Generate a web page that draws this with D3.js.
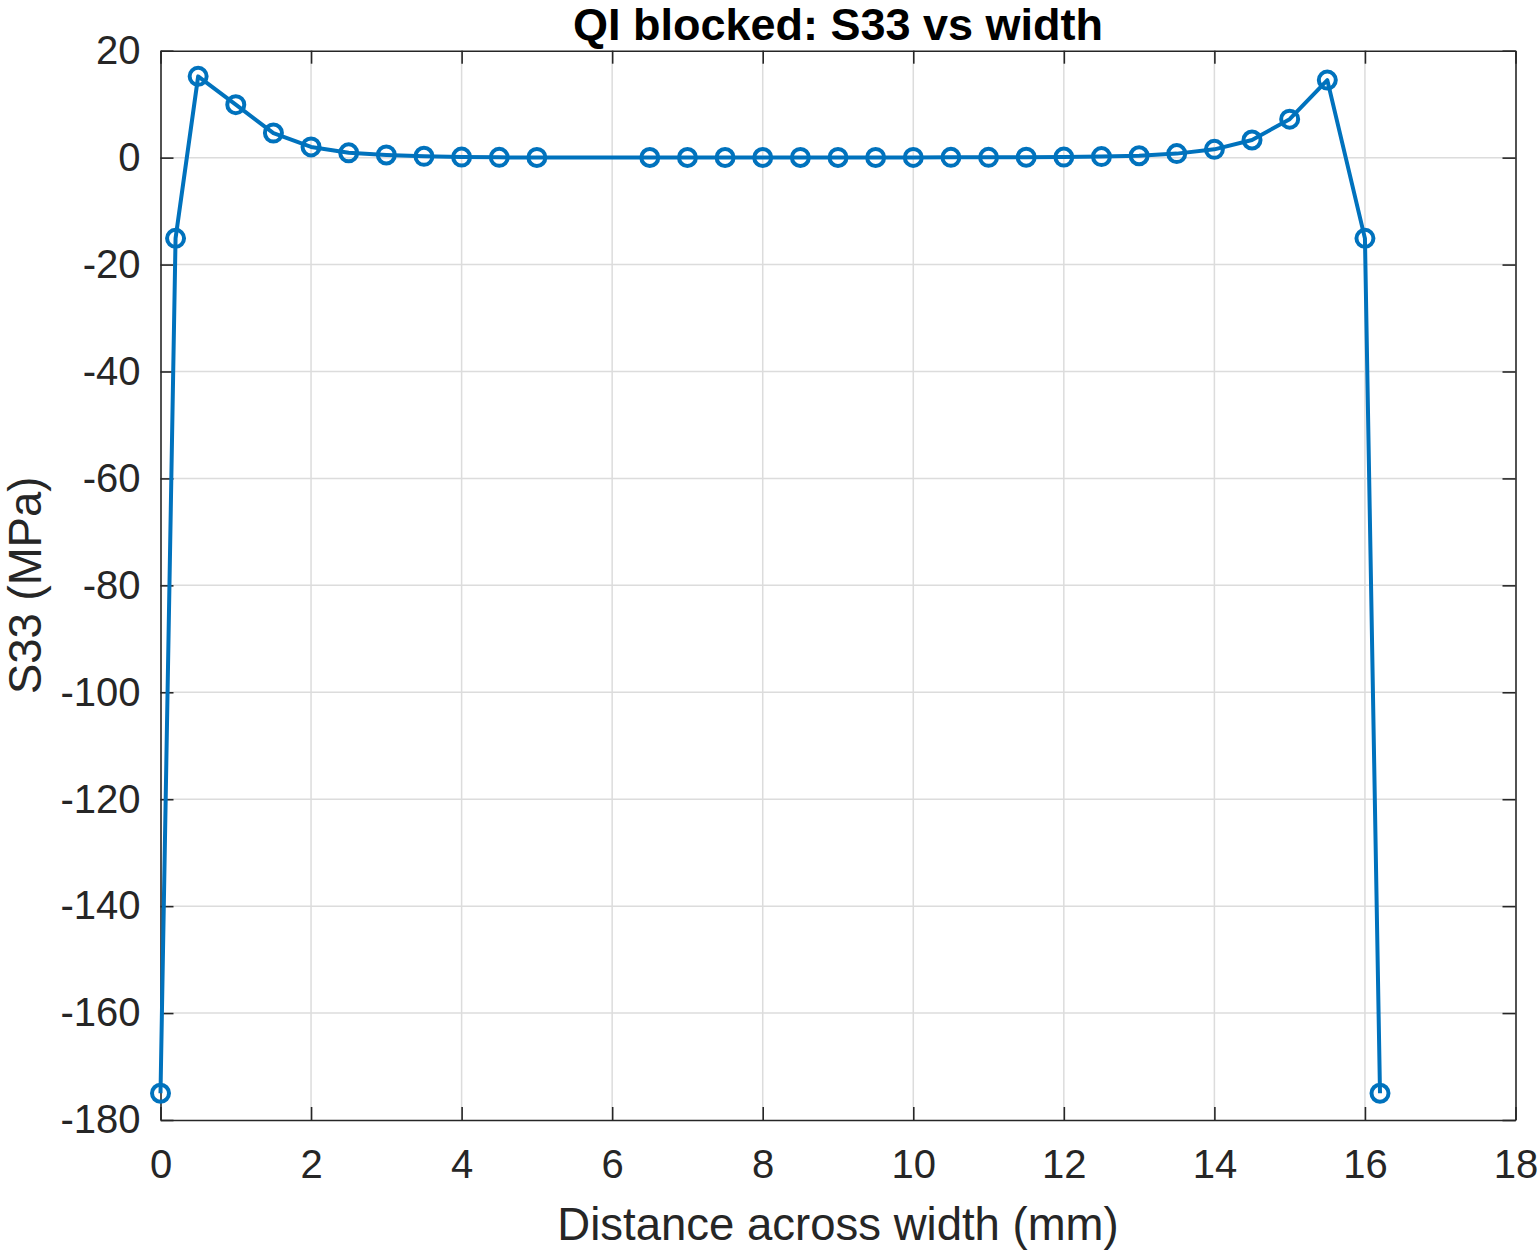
<!DOCTYPE html>
<html>
<head>
<meta charset="utf-8">
<script src="https://cdn.jsdelivr.net/npm/d3@7"></script>
<style>
  html, body { margin: 0; padding: 0; background: #fff; }
  svg { display: block; font-family: "Liberation Sans", Arial, sans-serif; }
</style>
</head>
<body>
<svg id="chart" width="1540" height="1253"></svg>
<script>
// distance across width (mm) and S33 (MPa)
const xValues = [0, 0.2, 0.5, 1, 1.5, 2, 2.5, 3, 3.5, 4, 4.5, 5,
  6.5, 7, 7.5, 8, 8.5, 9, 9.5, 10, 10.5, 11, 11.5, 12, 12.5, 13, 13.5,
  14, 14.5, 15, 15.5, 16, 16.2];
const s33Values = [-175, -15.1, 15.2, 9.9, 4.6, 2.0, 0.9, 0.5, 0.25, 0.1, 0.05, 0.03,
  0.02, 0.02, 0.02, 0.02, 0.03, 0.03, 0.03, 0.04, 0.05, 0.06, 0.08, 0.1, 0.2, 0.35, 0.75,
  1.55, 3.3, 7.2, 14.5, -15.1, -175];
const xTicks = [0, 2, 4, 6, 8, 10, 12, 14, 16, 18];
const yTicks = [20, 0, -20, -40, -60, -80, -100, -120, -140, -160, -180];

const titleText = "QI blocked: S33 vs width";
const xLabel = "Distance across width (mm)";
const yLabel = "S33 (MPa)";

function drawChart() {
  const svg = d3.select("#chart");
  svg.selectAll("*").remove();

  const left = 160.5, right = 1515.5, top = 50.7, bottom = 1120;
  const axisColor = "#262626";

  const x = d3.scaleLinear().domain([0, 18]).range([left, right]);
  const y = d3.scaleLinear().domain([-180, 20]).range([bottom, top]);

  // grid
  const grid = svg.append("g");
  grid.selectAll("line.gx")
    .data(xTicks.slice(1, -1))
    .enter().append("line")
    .attr("x1", d => x(d)).attr("x2", d => x(d))
    .attr("y1", top).attr("y2", bottom)
    .attr("stroke", "#dcdcdc").attr("stroke-width", 1.5);
  grid.selectAll("line.gy")
    .data(yTicks.slice(1, -1))
    .enter().append("line")
    .attr("y1", d => y(d)).attr("y2", d => y(d))
    .attr("x1", left).attr("x2", right)
    .attr("stroke", "#dcdcdc").attr("stroke-width", 1.5);

  // axes (ticks pointing inward, box around); plain hyphen for negatives
  const fmt = d => String(d);
  const xAxis = d3.axisBottom(x).tickValues(xTicks).tickSizeInner(-13).tickSizeOuter(0).tickPadding(30).tickFormat(fmt);
  const xAxisTop = d3.axisTop(x).tickValues(xTicks).tickSizeInner(-13).tickSizeOuter(0).tickFormat("");
  const yAxis = d3.axisLeft(y).tickValues(yTicks).tickSizeInner(-13).tickSizeOuter(0).tickPadding(20).tickFormat(fmt);
  const yAxisRight = d3.axisRight(y).tickValues(yTicks).tickSizeInner(-13).tickSizeOuter(0).tickFormat("");

  const styleAxis = g => {
    g.select(".domain").attr("stroke", axisColor).attr("stroke-width", 1.6);
    g.selectAll(".tick line").attr("stroke", axisColor).attr("stroke-width", 1.6);
    g.selectAll(".tick text").attr("fill", axisColor).style("font-size", "40px");
  };

  svg.append("g").attr("transform", `translate(0,${bottom})`).call(xAxis).call(styleAxis);
  svg.append("g").attr("transform", `translate(0,${top})`).call(xAxisTop).call(styleAxis);
  svg.append("g").attr("transform", `translate(${left},0)`).call(yAxis).call(styleAxis);
  svg.append("g").attr("transform", `translate(${right},0)`).call(yAxisRight).call(styleAxis);

  // data line + circle markers
  const pts = xValues.map((v, i) => [v, s33Values[i]]);
  const line = d3.line().x(d => x(d[0])).y(d => y(d[1]));

  svg.append("path")
    .datum(pts)
    .attr("d", line)
    .attr("fill", "none")
    .attr("stroke", "#0072BD")
    .attr("stroke-width", 4)
    .attr("stroke-linejoin", "round");

  svg.append("g").selectAll("circle")
    .data(pts)
    .enter().append("circle")
    .attr("cx", d => x(d[0]))
    .attr("cy", d => y(d[1]))
    .attr("r", 8.5)
    .attr("fill", "none")
    .attr("stroke", "#0072BD")
    .attr("stroke-width", 4);

  // title and labels
  svg.append("text")
    .attr("x", (left + right) / 2).attr("y", 39.5)
    .attr("text-anchor", "middle")
    .style("font-size", "45px").style("font-weight", "bold")
    .attr("fill", "#000")
    .text(titleText);

  svg.append("text")
    .attr("x", (left + right) / 2).attr("y", 1240)
    .attr("text-anchor", "middle")
    .style("font-size", "45.5px")
    .attr("fill", axisColor)
    .text(xLabel);

  svg.append("text")
    .attr("transform", `translate(41,${(top + bottom) / 2}) rotate(-90)`)
    .attr("text-anchor", "middle")
    .style("font-size", "45.5px")
    .attr("fill", axisColor)
    .text(yLabel);
}

drawChart();
</script>
</body>
</html>
